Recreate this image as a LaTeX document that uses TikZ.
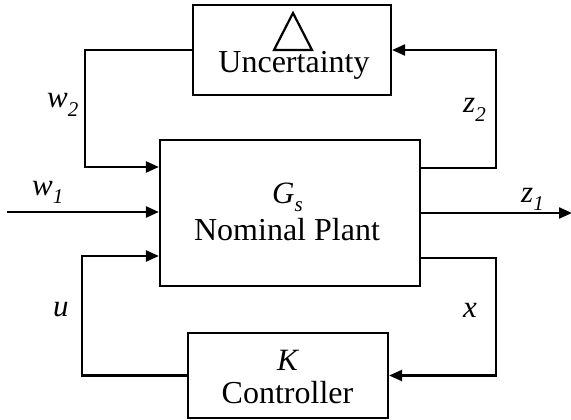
\documentclass[tikz,border=0pt]{standalone}
\usepackage{fontspec}
\setmainfont{Liberation Serif}
\usetikzlibrary{arrows.meta}
\newcommand\mysub[1]{\raisebox{-0.28em}{\fontsize{21}{21}\selectfont\itshape #1}}
\tikzset{
  blk/.style={draw, line width=2.2pt, rectangle, inner sep=0pt},
  arr/.style={line width=2.2pt, -{Triangle[length=13pt,width=11pt]}},
  lbl/.style={inner sep=0pt, font=\fontsize{31}{36}\selectfont},
  txt/.style={inner sep=0pt, font=\fontsize{32}{38}\selectfont}
}
\begin{document}
\begin{tikzpicture}[x=1pt, y=-1pt]
\useasboundingbox (0,0) rectangle (571,420);
% blocks
\node[blk, minimum width=198pt, minimum height=90pt] (unc) at (292,50) {};
\node[blk, minimum width=260pt, minimum height=146pt] (plant) at (290,213) {};
\node[blk, minimum width=200pt, minimum height=85pt] (ctrl) at (288,375.5) {};
% texts inside blocks
\draw[line width=2.2pt, line join=miter] (293,13) -- (312,50) -- (274,50) -- cycle;
\node[txt, anchor=base] (unctxt) at (294,73) {Uncertainty};
\node[lbl, anchor=base west] (gs) at (272,203) {\textit{G}\mysub{s}};
\node[txt, anchor=base] (plnt) at (287,240) {Nominal Plant};
\node[lbl, anchor=base west] (kk) at (277,370) {\textit{K}};
\node[txt, anchor=base] (ctl) at (287.5,403) {Controller};
% signal labels
\node[lbl, anchor=base west] (lw2) at (47,108) {\textit{w}\mysub{2}};
\node[lbl, anchor=base west] (lz2) at (463,113) {\textit{z}\mysub{2}};
\node[lbl, anchor=base west] (lw1) at (32,195) {\textit{w}\mysub{1}};
\node[lbl, anchor=base west] (lz1) at (521,202) {\textit{z}\mysub{1}};
\node[lbl, anchor=base west] (lu) at (53,316) {\textit{u}};
\node[lbl, anchor=base west] (lx) at (463,317) {\textit{x}};
% corner coordinates
\coordinate (z2c) at (496,168);
\coordinate (w2c) at (85,167);
\coordinate (w1s) at (7,212);
\coordinate (z1e) at (572,213);
\coordinate (xt) at (496,258);
\coordinate (ut) at (82,256);
% connectors
\draw[arr] (z2c -| plant.east) -- (z2c) |- (unc.east);
\draw[arr] (unc.west) -| (w2c) -- (w2c -| plant.west);
\draw[arr] (w1s) -- (w1s -| plant.west);
\draw[arr] (z1e -| plant.east) -- (z1e);
\draw[arr] (xt -| plant.east) -- (xt) |- (ctrl.east);
\draw[arr] (ctrl.west) -| (ut) -- (ut -| plant.west);
\end{tikzpicture}
\end{document}
